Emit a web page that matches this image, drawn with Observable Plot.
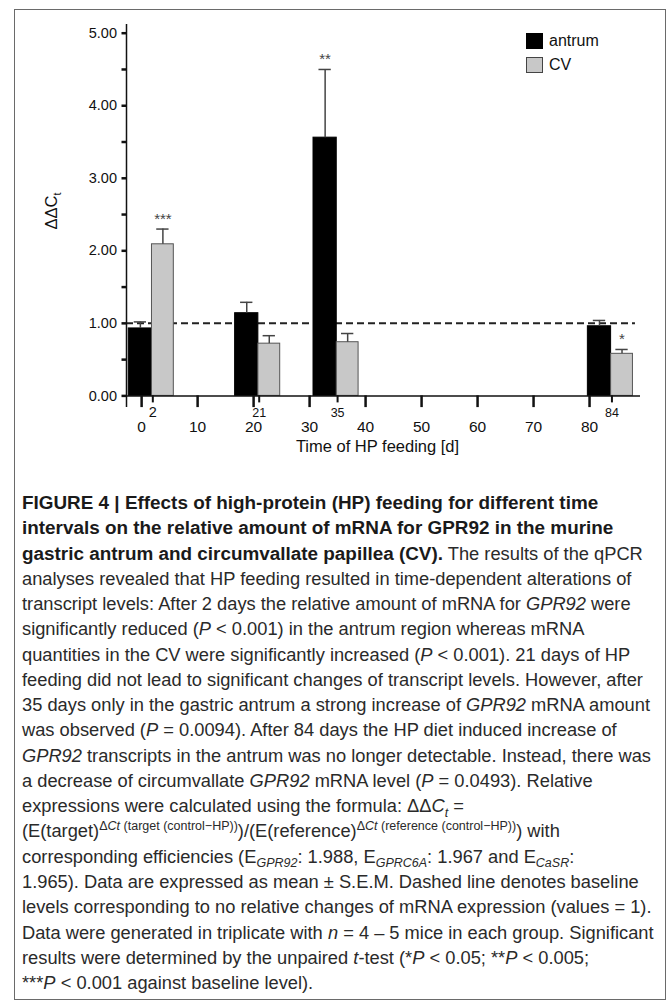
<!DOCTYPE html>
<html>
<head>
<meta charset="utf-8">
<script src="https://cdn.jsdelivr.net/npm/d3@7"></script>
<script src="https://cdn.jsdelivr.net/npm/@observablehq/plot@0.6"></script>
<style>
  html, body { margin: 0; padding: 0; background: #fff; }
  #page { position: relative; width: 669px; height: 1001px; overflow: hidden; font-family: "Liberation Sans", Arial, sans-serif; }
  #box { position: absolute; left: 14px; top: 9px; width: 652px; height: 991px; border: 1.5px solid #6a6a6a; box-sizing: border-box; }
  #chart { position: absolute; left: 0; top: 0; }
  .sw { position: absolute; width: 17px; height: 16px; box-sizing: border-box; }
  .lt { position: absolute; font-size: 16px; line-height: 16px; color: #111; white-space: nowrap; }
  #caption { position: absolute; left: 22px; top: 490px; font-size: 18.3px; line-height: 25.27px; color: #2a2a2a; white-space: nowrap; }
  #caption b { color: #1a1a1a; font-size: 18.9px; }
  #caption sup { font-size: 12.5px; line-height: 0; vertical-align: baseline; position: relative; top: -0.62em; }
  #caption sub { font-size: 12.5px; line-height: 0; vertical-align: baseline; position: relative; top: 0.35em; }
</style>
</head>
<body>
<div id="page">
  <div id="box"></div>
  <div id="chart"></div>
  <div class="sw" style="left:526px; top:33px; background:#000; border:1px solid #000;"></div>
  <div class="lt" style="left:549px; top:33px;">antrum</div>
  <div class="sw" style="left:526px; top:57px; background:#c8c8c8; border:1px solid #444;"></div>
  <div class="lt" style="left:549px; top:57px;">CV</div>
  <div id="caption">
<b>FIGURE 4 | Effects of high-protein (HP) feeding for different time</b><br>
<b>intervals on the relative amount of mRNA for GPR92 in the murine</b><br>
<b>gastric antrum and circumvallate papillea (CV).</b> The results of the qPCR<br>
analyses revealed that HP feeding resulted in time-dependent alterations of<br>
transcript levels: After 2 days the relative amount of mRNA for <i>GPR92</i> were<br>
significantly reduced (<i>P</i> &lt; 0.001) in the antrum region whereas mRNA<br>
quantities in the CV were significantly increased (<i>P</i> &lt; 0.001). 21 days of HP<br>
feeding did not lead to significant changes of transcript levels. However, after<br>
35 days only in the gastric antrum a strong increase of <i>GPR92</i> mRNA amount<br>
was observed (<i>P</i> = 0.0094). After 84 days the HP diet induced increase of<br>
<i>GPR92</i> transcripts in the antrum was no longer detectable. Instead, there was<br>
a decrease of circumvallate <i>GPR92</i> mRNA level (<i>P</i> = 0.0493). Relative<br>
expressions were calculated using the formula: ΔΔ<i>C<sub>t</sub></i> =<br>
(E(target)<sup>Δ<i>Ct</i> (target (control−HP))</sup>)/(E(reference)<sup>Δ<i>Ct</i> (reference (control−HP))</sup>) with<br>
corresponding efficiencies (E<sub><i>GPR92</i></sub>: 1.988, E<sub><i>GPRC6A</i></sub>: 1.967 and E<sub><i>CaSR</i></sub>:<br>
1.965). Data are expressed as mean ± S.E.M. Dashed line denotes baseline<br>
levels corresponding to no relative changes of mRNA expression (values = 1).<br>
Data were generated in triplicate with <i>n</i> = 4 – 5 mice in each group. Significant<br>
results were determined by the unpaired <i>t</i>-test (*<i>P</i> &lt; 0.05; **<i>P</i> &lt; 0.005;<br>
***<i>P</i> &lt; 0.001 against baseline level).
  </div>
</div>
<script>
// ---- data ----
const days = [2, 21, 35, 84];
const antrumMean = [0.93, 1.14, 3.56, 0.96];
const antrumSem = [0.09, 0.15, 0.94, 0.08];
const cvMean = [2.09, 0.72, 0.74, 0.58];
const cvSem = [0.21, 0.11, 0.12, 0.06];
const antrumSig = ["", "", "**", ""];
const cvSig = ["***", "", "", "*"];
const groups = ["antrum", "CV"];
const xMajorTicks = [0, 10, 20, 30, 40, 50, 60, 70, 80];
const xMinorTicks = [2, 21, 35, 84];
const yTicks = [0, 0.5, 1, 1.5, 2, 2.5, 3, 3.5, 4, 4.5, 5];
const baseline = 1;
const xLabel = "Time of HP feeding [d]";

// ---- layout constants ----
const xDomain = [-2.7, 89.1];
const yDomain = [-0.16, 5.12];
const split = -0.15;          // boundary between the paired bars, relative to the day
const widths = {antrum: 4.15, CV: 3.9};
const fills = {antrum: "#000000", CV: "#c8c8c8"};
const strokes = {antrum: "#000000", CV: "#555555"};

const rows = days.flatMap((d, i) => [
  {day: d, group: "antrum", mean: antrumMean[i], sem: antrumSem[i], sig: antrumSig[i]},
  {day: d, group: "CV", mean: cvMean[i], sem: cvSem[i], sig: cvSig[i]}
]).map(r => {
  const x1 = r.group === "antrum" ? r.day + split - widths.antrum : r.day + split;
  const x2 = r.group === "antrum" ? r.day + split : r.day + split + widths.CV;
  return {...r, x1, x2, xc: (x1 + x2) / 2, top: r.mean + r.sem};
});

const chart = Plot.plot({
  width: 669,
  height: 470,
  marginLeft: 126,
  marginRight: 29,
  marginTop: 24,
  marginBottom: 63,
  style: {fontFamily: "Liberation Sans, Arial, sans-serif", fontSize: "15px", color: "#111", background: "transparent"},
  x: {domain: xDomain},
  y: {domain: yDomain},
  marks: [
    // baseline (dashed)
    Plot.ruleY([baseline], {x1: xDomain[0], x2: 88.2, stroke: "#222", strokeWidth: 2, strokeDasharray: "7,4"}),
    // bars
    Plot.rect(rows, {x1: "x1", x2: "x2", y1: 0, y2: "mean", fill: d => fills[d.group], stroke: d => strokes[d.group], strokeWidth: 1}),
    // error bars (upper only)
    Plot.ruleX(rows, {x: "xc", y1: "mean", y2: "top", stroke: "#444", strokeWidth: 1.5}),
    Plot.ruleY(rows, {y: "top", x1: d => d.xc - 1.1, x2: d => d.xc + 1.1, stroke: "#444", strokeWidth: 1.5}),
    // significance stars
    Plot.text(rows.filter(d => d.sig), {x: "xc", y: "top", text: "sig", dy: -10, fontSize: 15, fill: "#444"}),
    // axis lines
    Plot.ruleX([xDomain[0]], {y1: yDomain[0], y2: yDomain[1], stroke: "#111", strokeWidth: 1.5}),
    Plot.ruleY([0], {x1: xDomain[0], x2: xDomain[1], stroke: "#111", strokeWidth: 1.5}),
    // y axis ticks + labels
    Plot.axisY({ticks: yTicks, tickFormat: d => Number.isInteger(d) ? d3.format(".2f")(d) : "", tickSize: 4.5, tickPadding: 5, strokeWidth: 2.5, fontSize: 14.5, label: null}),
    // x axis: major ticks
    Plot.axisX({ticks: xMajorTicks, tickSize: 11.7, tickPadding: 13.6, strokeWidth: 2.5, fontSize: 15.5, label: null, y: 0}),
    // x axis: sampling days
    Plot.axisX({ticks: xMinorTicks.slice(0, 1), tickSize: 7, tickPadding: 4, strokeWidth: 2, fontSize: 14.5, label: null, y: 0}),
    Plot.axisX({ticks: xMinorTicks.slice(1), tickSize: 7, tickPadding: 5, strokeWidth: 2, fontSize: 12.5, label: null, y: 0}),
    // x label
    Plot.text([xLabel], {frameAnchor: "bottom", dy: 44, dx: -6, fontSize: 16.5, fill: "#111"})
  ]
});

document.getElementById("chart").appendChild(chart);

// y-axis label with subscript
const svg = d3.select(chart);
const yl = svg.append("text")
  .attr("transform", "translate(57,211) rotate(-90)")
  .attr("text-anchor", "middle")
  .attr("font-size", 16.5)
  .attr("fill", "#111");
yl.append("tspan").text("ΔΔC");
yl.append("tspan").attr("font-size", 11).attr("dy", 4).text("t");
</script>
</body>
</html>
